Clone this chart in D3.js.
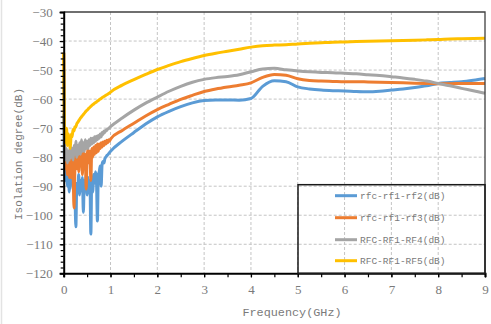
<!DOCTYPE html>
<html>
<head>
<meta charset="utf-8">
<script src="https://cdn.jsdelivr.net/npm/d3@7/dist/d3.min.js"></script>
<style>
  html, body { margin: 0; padding: 0; background: #fff; }
  svg { display: block; }
</style>
</head>
<body>
<svg id="chart" width="491" height="324"></svg>
<script>
// Frequency grid (GHz): fine 0.02 steps up to 1 GHz, then 0.25 GHz steps
const freqGHz = [
  0.00,0.02,0.04,0.06,0.08,0.10,0.12,0.14,0.16,0.18,
  0.20,0.22,0.24,0.26,0.28,0.30,0.32,0.34,0.36,0.38,
  0.40,0.42,0.44,0.46,0.48,0.50,0.52,0.54,0.56,0.58,
  0.60,0.62,0.64,0.66,0.68,0.70,0.72,0.74,0.76,0.78,
  0.80,0.82,0.84,0.86,0.88,0.90,0.92,0.94,0.96,0.98,
  1.00,
  1.25,1.50,1.75,2.00,2.25,2.50,2.75,3.00,3.25,3.50,3.75,4.00,
  4.25,4.50,4.75,5.00,5.25,5.50,5.75,6.00,6.25,6.50,6.75,7.00,
  7.25,7.50,7.75,8.00,8.25,8.50,8.75,9.00
];

// Isolation (dB) per path
const rf2 = [
  -65,-84,-88,-85,-90,-86,-92,-87,-89,-85,
  -91,-88,-93,-104,-89,-92,-86,-93,-88,-90,
  -87,-99,-88,-91,-86,-93,-87,-90,-88,-106.5,
  -87,-92,-86,-89,-85,-88,-102,-86,-85,-83,
  -90,-82.5,-81.5,-82,-80.5,-80,-79.5,-79.2,-78.8,-78.4,
  -78,
  -74.5,-71.5,-68.6,-66.1,-64.2,-62.6,-61.3,-60.5,-60.3,-60.3,-60.4,-59.8,
  -55.6,-53.7,-54.0,-55.8,-56.5,-56.9,-57.1,-57.2,-57.4,-57.5,-57.3,-56.9,
  -56.5,-56.0,-55.4,-54.6,-54.3,-54.0,-53.5,-52.9
];
const rf3 = [
  -44,-78,-84,-80,-86,-82,-87,-81,-87,-80,
  -84,-97.5,-83,-79,-84,-80,-85,-79,-83,-78,
  -86,-76,-81,-79,-91,-80,-77,-82,-78,-88,
  -77,-80,-76.5,-79,-76,-78.5,-75.5,-78,-75.5,-77,
  -75,-76.5,-74.8,-76,-74.5,-75.5,-74.2,-75,-74,-74.5,
  -73.8,
  -70.8,-68.3,-65.8,-63.6,-61.8,-60.1,-58.7,-57.4,-56.5,-55.8,-55.2,-54.4,
  -52.5,-51.5,-51.8,-53.0,-53.6,-53.8,-53.9,-54.0,-54.0,-54.1,-54.2,-54.3,
  -54.4,-54.5,-54.6,-54.7,-54.7,-54.6,-54.6,-54.6
];
const rf4 = [
  -50,-78,-81,-77,-82,-78,-81,-76,-80,-77,
  -81,-76,-79,-74.5,-80,-76,-79,-75,-79,-74,
  -78,-75,-78,-74,-77,-74.5,-77,-74,-76,-73.5,
  -75.5,-73.5,-75,-73,-74.5,-72.8,-74,-72.5,-73.5,-72,
  -73,-71.5,-72.2,-71,-71.5,-70.6,-70.8,-70.2,-70.2,-69.8,
  -69.5,
  -66.5,-63.8,-61.4,-59.3,-57.3,-55.6,-54.2,-53.2,-52.6,-52.2,-51.6,-50.6,
  -49.6,-49.4,-49.9,-50.3,-50.6,-50.8,-50.9,-51.1,-51.3,-51.6,-51.9,-52.3,
  -52.7,-53.2,-53.8,-54.6,-55.4,-56.3,-57.1,-58.0
];
const rf5 = [
  -44,-73,-75,-70,-76,-72,-74.5,-77,-72,-73,
  -70.5,-71,-69.5,-69.5,-68.5,-68.0,-67.5,-67.0,-66.5,-66.1,
  -65.7,-65.3,-64.9,-64.5,-64.1,-63.8,-63.5,-63.1,-62.8,-62.5,
  -62.2,-61.9,-61.7,-61.4,-61.2,-61.0,-60.7,-60.5,-60.2,-60.0,
  -59.8,-59.5,-59.3,-59.1,-58.9,-58.7,-58.5,-58.3,-58.1,-57.9,
  -57.6,
  -55.2,-53.3,-51.5,-49.8,-48.4,-47.1,-46.0,-45.0,-44.2,-43.5,-42.8,-42.1,
  -41.6,-41.4,-41.3,-41.0,-40.8,-40.6,-40.4,-40.3,-40.2,-40.1,-40.0,-39.9,
  -39.8,-39.7,-39.6,-39.5,-39.3,-39.2,-39.1,-39.0
];

const seriesNames = ["rfc-rf1-rf2(dB)", "rfc-rf1-rf3(dB)", "RFC-RF1-RF4(dB)", "RFC-RF1-RF5(dB)"];
const seriesValues = [rf2, rf3, rf4, rf5];
const seriesColors = ["#5B9BD5", "#ED7D31", "#A5A5A5", "#FFC000"];

const xTicks = [0,1,2,3,4,5,6,7,8,9];
const xMinorTicks = d3.range(0, 9.01, 0.5);
const yTicks = [-120,-110,-100,-90,-80,-70,-60,-50,-40,-30];
const yMinorTicks = d3.range(-120, -29.9, 2);

const xTitle = "Frequency(GHz)";
const yTitle = "Isolation degree(dB)";

const svg = d3.select("#chart");
const L = 63.7, R = 485, T = 12, B = 273.3;

const x = d3.scaleLinear().domain([0, 9]).range([L, R]);
const y = d3.scaleLinear().domain([-120, -30]).range([B, T]);

// faint outer frame edge
svg.append("line").attr("x1", 1.5).attr("x2", 1.5).attr("y1", 0).attr("y2", 324)
  .attr("stroke", "#e3e3e3").attr("stroke-width", 1.5);

// dashed grid
const grid = svg.append("g").attr("stroke", "#c4c4c4").attr("stroke-width", 1).attr("stroke-dasharray", "3,2");
grid.selectAll("line.v").data(xTicks.slice(1, -1)).join("line")
  .attr("x1", d => x(d)).attr("x2", d => x(d)).attr("y1", T).attr("y2", B);
grid.selectAll("line.h").data(yTicks.slice(1, -1)).join("line")
  .attr("x1", L).attr("x2", R).attr("y1", d => y(d)).attr("y2", d => y(d));

// series lines
const line = d3.line().x((d, i) => x(freqGHz[i])).y(d => y(d)).curve(d3.curveMonotoneX);
svg.append("g").selectAll("path").data(seriesValues).join("path")
  .attr("d", d => line(d))
  .attr("fill", "none")
  .attr("stroke", (d, i) => seriesColors[i])
  .attr("stroke-width", 3)
  .attr("stroke-linejoin", "round");

// top and right frame
svg.append("path").attr("d", `M${L},${T}H${R}V${B}`).attr("fill", "none")
  .attr("stroke", "#404040").attr("stroke-width", 1.3);

// axes
const tickFont = "'Liberation Serif', serif";
const xAxis = svg.append("g").attr("transform", `translate(0,${B})`)
  .call(d3.axisBottom(x).tickValues(xTicks).tickSize(4).tickFormat(d3.format("d")));
svg.append("g").attr("transform", `translate(0,${B})`)
  .call(d3.axisBottom(x).tickValues(xMinorTicks).tickSize(4).tickFormat(""))
  .call(g => g.select(".domain").remove());
const yAxis = svg.append("g").attr("transform", `translate(${L},0)`)
  .call(d3.axisLeft(y).tickValues(yTicks).tickSize(4).tickFormat(d3.format("d")));
svg.append("g").attr("transform", `translate(${L},0)`)
  .call(d3.axisLeft(y).tickValues(yMinorTicks).tickSize(3).tickFormat(""))
  .call(g => g.select(".domain").remove());

svg.selectAll(".domain").attr("stroke", "#000").attr("stroke-width", 2);
svg.selectAll(".tick line").attr("stroke", "#000").attr("stroke-width", 1.2);
xAxis.selectAll("text").attr("font-family", tickFont).attr("font-size", 13)
  .attr("fill", "#7a7a7a").attr("dy", "1.15em").attr("y", 6);
yAxis.selectAll("text").attr("font-family", tickFont).attr("font-size", 13)
  .attr("fill", "#7a7a7a").attr("x", -11);

// axis titles
const titleFont = "'Liberation Mono', monospace";
svg.append("text").attr("x", 292).attr("y", 316).attr("text-anchor", "middle")
  .attr("font-family", titleFont).attr("font-size", 11.8).attr("fill", "#7a7a7a").text(xTitle);
svg.append("text").attr("transform", "translate(21.5,154) rotate(-90)").attr("text-anchor", "middle")
  .attr("font-family", titleFont).attr("font-size", 11).attr("fill", "#7a7a7a").text(yTitle);

// legend
const lg = svg.append("g");
lg.append("rect").attr("x", 298).attr("y", 184.7).attr("width", R - 298).attr("height", B - 184.7)
  .attr("fill", "none").attr("stroke", "#1a1a1a").attr("stroke-width", 1.5);
const rowY = [195.7, 217.7, 239.7, 260.7];
const rows = lg.selectAll("g.row").data(seriesNames).join("g")
  .attr("transform", (d, i) => `translate(0,${rowY[i]})`);
rows.append("line").attr("x1", 335).attr("x2", 357).attr("y1", 0).attr("y2", 0)
  .attr("stroke", (d, i) => seriesColors[i]).attr("stroke-width", 3);
rows.append("text").attr("x", 360).attr("y", 0).attr("dy", "0.35em")
  .attr("font-family", titleFont).attr("font-size", 9.5).attr("fill", "#7a7a7a").text(d => d);
</script>
</body>
</html>
